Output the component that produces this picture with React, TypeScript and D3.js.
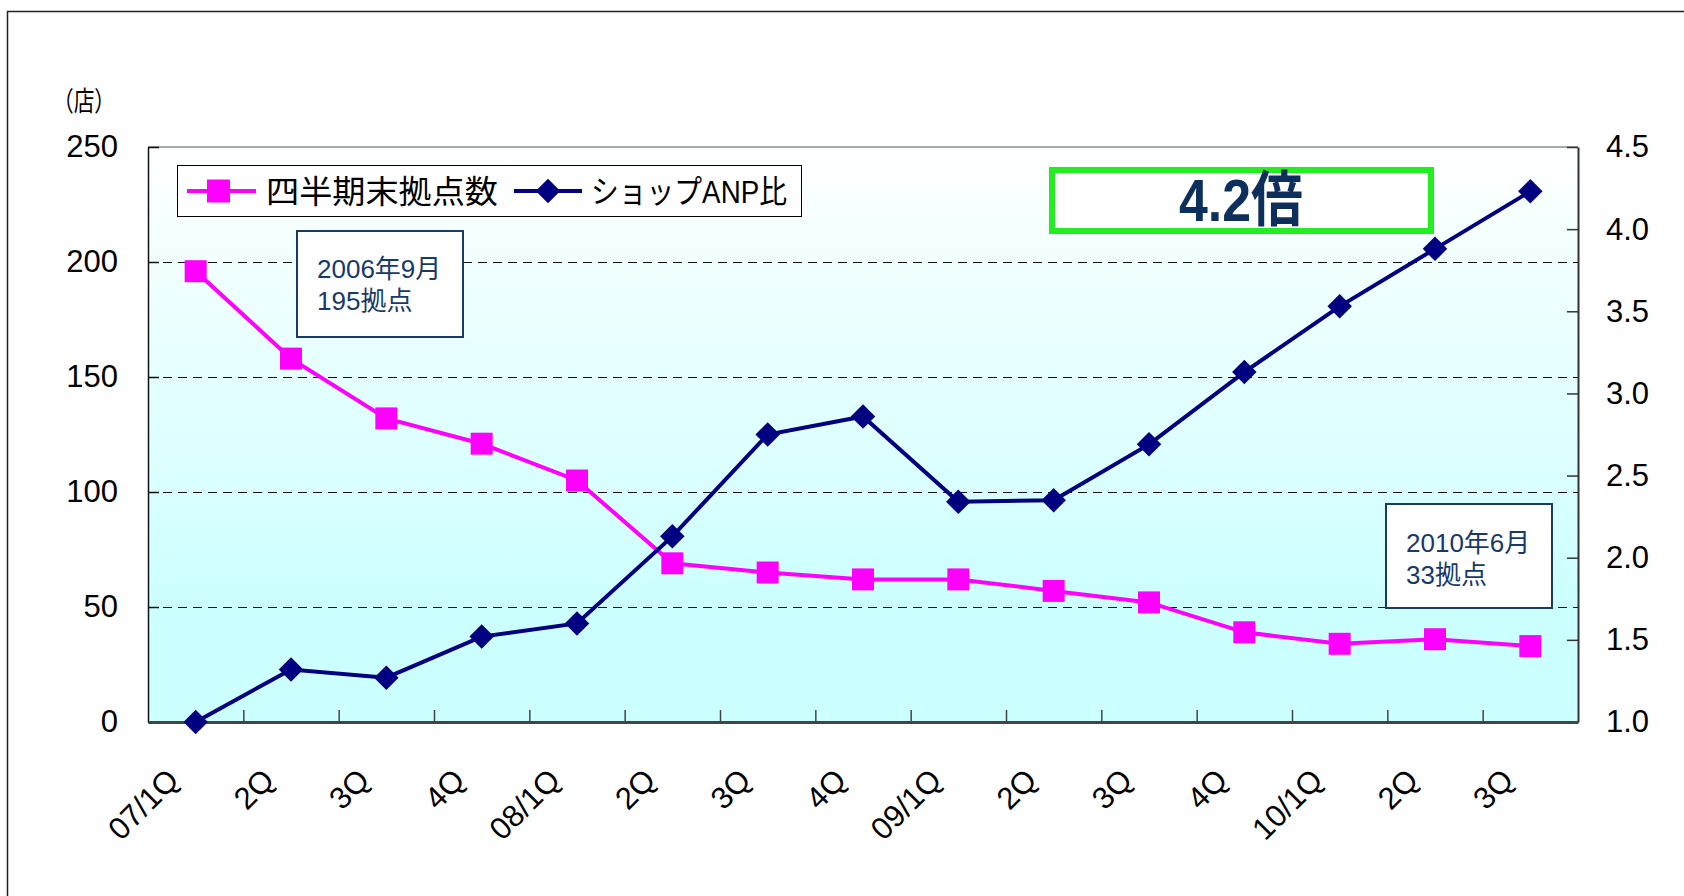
import React, { useEffect, useRef } from "react";
import * as d3 from "d3";

// quarter labels (fiscal year / quarter)
const categories = [
  "07/1Q", "2Q", "3Q", "4Q",
  "08/1Q", "2Q", "3Q", "4Q",
  "09/1Q", "2Q", "3Q", "4Q",
  "10/1Q", "2Q", "3Q",
];
// 四半期末拠点数 (left axis, 店)
const storeCounts = [196, 158, 132, 121, 105, 69, 65, 62, 62, 57, 52, 39, 34, 36, 33];
// ショップANP比 (right axis)
const anpRatio = [1.0, 1.32, 1.27, 1.52, 1.6, 2.13, 2.75, 2.86, 2.34, 2.35, 2.69, 3.13, 3.53, 3.88, 4.23];

const leftTicks = [0, 50, 100, 150, 200, 250];
const rightTicks = [1.0, 1.5, 2.0, 2.5, 3.0, 3.5, 4.0, 4.5];
const gridValues = [50, 100, 150, 200];

const seriesNames = ["四半期末拠点数", "ショップANP比"];
const noteStart = ["2006年9月", "195拠点"];
const noteEnd = ["2010年6月", "33拠点"];
const growthLabel = "4.2倍";

const FONT = "'Liberation Sans', Arial, 'Noto Sans CJK JP', sans-serif";
const PINK = "#ff00ff";
const NAVY = "#000080";
const NOTE = "#173a68";

export default function App() {
  const ref = useRef<SVGSVGElement>(null);

  useEffect(() => {
    const W = 1684, H = 896;
    const left = 148, right = 1578, top = 147, bottom = 722;

    const svg = d3.select(ref.current);
    svg.selectAll("*").remove();
    svg.attr("width", W).attr("height", H).style("font-family", FONT);

    const defs = svg.append("defs");
    const grad = defs
      .append("linearGradient")
      .attr("id", "plotBg")
      .attr("x1", 0).attr("y1", 0).attr("x2", 0).attr("y2", 1);
    grad.append("stop").attr("offset", "0%").attr("stop-color", "#ffffff");
    grad.append("stop").attr("offset", "80%").attr("stop-color", "#ccffff");
    grad.append("stop").attr("offset", "100%").attr("stop-color", "#ccffff");

    // outer frame (only top and left edges are inside the picture)
    svg.append("rect")
      .attr("x", 7.5).attr("y", 11.5)
      .attr("width", 1720).attr("height", 920)
      .attr("fill", "#fff").attr("stroke", "#222").attr("stroke-width", 1.5);

    const x = d3.scaleBand<number>()
      .domain(categories.map((_, i) => i))
      .range([left, right]);
    const xEdge = d3.scaleLinear().domain([0, categories.length]).range([left, right]);
    const yL = d3.scaleLinear().domain([0, 250]).range([bottom, top]);
    const yR = d3.scaleLinear().domain([1.0, 4.5]).range([bottom, top]);
    const cx = (i: number) => (x(i) as number) + x.bandwidth() / 2;

    // plot background
    svg.append("rect")
      .attr("x", left).attr("y", top)
      .attr("width", right - left).attr("height", bottom - top)
      .attr("fill", "url(#plotBg)");
    svg.append("line")
      .attr("x1", left).attr("x2", right).attr("y1", top).attr("y2", top)
      .attr("stroke", "#8a8a8a").attr("stroke-width", 1.5);

    // dashed gridlines
    svg.append("g")
      .selectAll("line")
      .data(gridValues)
      .join("line")
      .attr("x1", left).attr("x2", right)
      .attr("y1", (d) => Math.round(yL(d)) + 0.5).attr("y2", (d) => Math.round(yL(d)) + 0.5)
      .attr("stroke", "#111").attr("stroke-width", 1)
      .attr("stroke-dasharray", "9,6");

    const styleAxis = (g: any, color: string, width: number) => {
      g.select(".domain").attr("stroke", color).attr("stroke-width", width);
      g.selectAll(".tick line").attr("stroke", color).attr("stroke-width", 1.5);
      g.selectAll(".tick text").attr("fill", "#000").style("font-size", "31px").style("font-family", FONT);
    };

    // left axis
    const gL = svg.append("g")
      .attr("transform", `translate(${left},0)`)
      .call(d3.axisLeft(yL).tickValues(leftTicks).tickSizeInner(-11).tickSizeOuter(0).tickPadding(30));
    styleAxis(gL, "#111", 1.5);

    // right axis
    const gR = svg.append("g")
      .attr("transform", `translate(${right},0)`)
      .call(
        d3.axisRight(yR)
          .tickValues(rightTicks)
          .tickFormat(d3.format(".1f") as any)
          .tickSizeInner(-11)
          .tickSizeOuter(0)
          .tickPadding(28)
      );
    styleAxis(gR, "#333", 2);

    // bottom axis: ticks at band edges, labels rotated
    const gB = svg.append("g")
      .attr("transform", `translate(0,${bottom})`)
      .call(
        d3.axisBottom(xEdge)
          .tickValues(d3.range(1, categories.length))
          .tickFormat(() => "")
          .tickSizeInner(-12)
          .tickSizeOuter(0)
      );
    styleAxis(gB, "#444", 3);

    svg.append("g")
      .selectAll("text")
      .data(categories)
      .join("text")
      .attr("transform", (_, i) => `translate(${cx(i) - 15},${bottom + 60}) rotate(-45)`)
      .attr("text-anchor", "end")
      .style("font-size", "31px")
      .attr("fill", "#000")
      .text((d) => d);

    // unit label
    svg.append("text")
      .attr("x", 84).attr("y", 111)
      .attr("text-anchor", "middle")
      .style("font-size", "27px")
      .style("font-family", "'Noto Sans CJK JP', sans-serif")
      .attr("textLength", 62).attr("lengthAdjust", "spacingAndGlyphs")
      .text("（店）");

    // lines
    const lineL = d3.line<number>().x((_, i) => cx(i)).y((d) => yL(d));
    const lineR = d3.line<number>().x((_, i) => cx(i)).y((d) => yR(d));

    svg.append("path")
      .datum(storeCounts)
      .attr("d", lineL)
      .attr("fill", "none").attr("stroke", PINK).attr("stroke-width", 4);
    svg.append("g")
      .selectAll("rect")
      .data(storeCounts)
      .join("rect")
      .attr("x", (_, i) => cx(i) - 11).attr("y", (d) => yL(d) - 11)
      .attr("width", 22).attr("height", 22)
      .attr("fill", PINK);

    const diamond = d3.symbol().type(d3.symbolSquare).size(300);
    svg.append("path")
      .datum(anpRatio)
      .attr("d", lineR)
      .attr("fill", "none").attr("stroke", NAVY).attr("stroke-width", 4);
    svg.append("g")
      .selectAll("path")
      .data(anpRatio)
      .join("path")
      .attr("d", diamond as any)
      .attr("transform", (d, i) => `translate(${cx(i)},${yR(d)}) rotate(45)`)
      .attr("fill", NAVY);

    // legend
    const lg = svg.append("g");
    lg.append("rect")
      .attr("x", 177.5).attr("y", 165.5).attr("width", 624).attr("height", 51)
      .attr("fill", "#fff").attr("stroke", "#000").attr("stroke-width", 1);
    const ly = 191;
    lg.append("line").attr("x1", 187).attr("x2", 256).attr("y1", ly).attr("y2", ly)
      .attr("stroke", PINK).attr("stroke-width", 4);
    lg.append("rect").attr("x", 207).attr("y", ly - 11.5).attr("width", 23).attr("height", 23).attr("fill", PINK);
    lg.append("text").attr("x", 266).attr("y", ly + 12)
      .style("font-size", "32px").attr("textLength", 232).attr("lengthAdjust", "spacingAndGlyphs")
      .text(seriesNames[0]);
    lg.append("line").attr("x1", 514).attr("x2", 582).attr("y1", ly).attr("y2", ly)
      .attr("stroke", NAVY).attr("stroke-width", 4);
    lg.append("path").attr("d", diamond as any)
      .attr("transform", `translate(548,${ly}) rotate(45)`).attr("fill", NAVY);
    lg.append("text").attr("x", 591).attr("y", ly + 12)
      .style("font-size", "32px").attr("textLength", 196).attr("lengthAdjust", "spacingAndGlyphs")
      .text(seriesNames[1]);

    // notes
    const note = (bx: number, by: number, bw: number, bh: number, lines: string[], base: number) => {
      const g = svg.append("g");
      g.append("rect").attr("x", bx).attr("y", by).attr("width", bw).attr("height", bh)
        .attr("fill", "#fff").attr("stroke", NOTE).attr("stroke-width", 2);
      g.selectAll("text")
        .data(lines)
        .join("text")
        .attr("x", bx + 20)
        .attr("y", (_, i) => base + i * 32)
        .attr("fill", NOTE)
        .style("font-size", "26px")
        .text((d) => d);
    };
    note(297, 231, 166, 106, noteStart, 278);
    note(1386, 504, 166, 104, noteEnd, 552);

    // growth highlight
    svg.append("rect")
      .attr("x", 1052).attr("y", 170).attr("width", 379).attr("height", 61)
      .attr("fill", "#fff").attr("stroke", "#22ee22").attr("stroke-width", 6);
    svg.append("text")
      .attr("x", 1241).attr("y", 221)
      .attr("text-anchor", "middle")
      .attr("fill", "#0d2f5c")
      .style("font-size", "60px").style("font-weight", "bold")
      .attr("textLength", 124).attr("lengthAdjust", "spacingAndGlyphs")
      .text(growthLabel);
  }, []);

  return <svg ref={ref} style={{ position: "absolute", left: 0, top: 0 }}></svg>;
}
